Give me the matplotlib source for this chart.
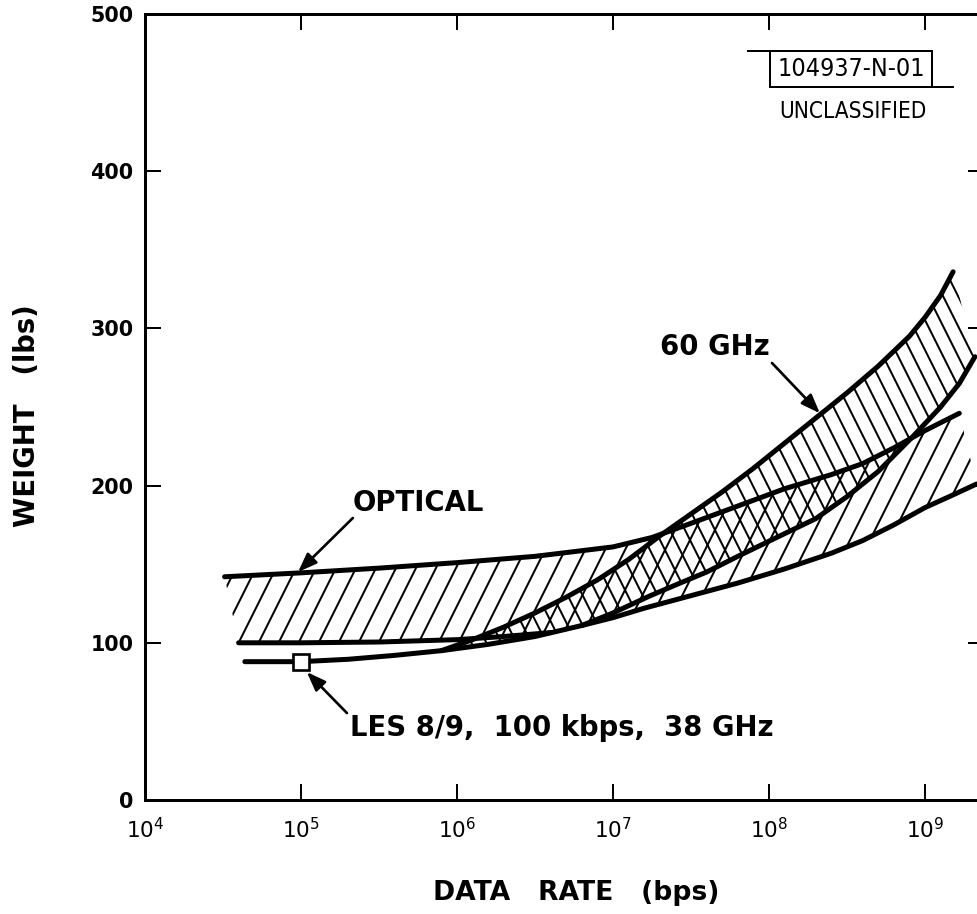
import numpy as np
import matplotlib
matplotlib.use('Agg')
import matplotlib.pyplot as plt
import matplotlib.hatch as mhatch
from matplotlib.path import Path
from matplotlib.lines import Line2D
from matplotlib import font_manager as fm

# ---------------- data ----------------
# log10(data rate in bps) and weight in lbs
# lowest curve (LES line / lower edge)
logr_a = [4.64, 5.0, 5.3, 5.6, 5.9, 6.2, 6.5, 6.8, 7.0, 7.2, 7.5, 7.8, 8.1, 8.4,
          8.6, 8.8, 9.0, 9.2, 9.33]
wt_a = [88, 88, 89.5, 92, 95, 99, 104, 111, 116, 122, 130, 138, 147, 157,
        165, 175, 186, 195, 201]

# optical lower edge at low data rates (merges into curve A)
logr_b = [4.6, 5.0, 5.5, 6.0, 6.3, 6.6]
wt_b = [100, 100, 100.5, 102, 104, 106.5]

# optical upper edge
logr_d = [4.51, 5.0, 5.5, 6.0, 6.5, 7.0, 7.25, 7.5, 7.8, 8.1, 8.4, 8.6, 8.8, 9.0, 9.22]
wt_d = [142, 144.5, 147.5, 151, 155, 161, 167, 176, 187, 198, 207, 214, 224, 235, 246]

# 60 GHz upper edge
logr_c = [5.9, 6.1, 6.3, 6.5, 6.7, 6.9, 7.1, 7.3, 7.5, 7.7, 7.9, 8.1, 8.3, 8.5,
          8.7, 8.9, 9.0, 9.1, 9.18]
wt_c = [95, 102, 110, 119, 129, 140, 153, 168, 182, 196, 211, 227, 243, 259,
        276, 295, 307, 321, 336]

# 60 GHz lower edge (after it leaves curve A)
logr_e = [6.8, 7.0, 7.24, 7.43, 7.6, 7.8, 8.07, 8.3, 8.5, 8.7, 8.92, 9.1, 9.22, 9.32]
wt_e = [111, 119, 130, 138, 145, 155, 168, 179, 193, 209, 231, 250, 265, 282]

les_logr = [5.0]
les_weight = [88]

x_ticks = [1e4, 1e5, 1e6, 1e7, 1e8, 1e9]
x_tick_labels = [r'$\mathregular{10^{4}}$', r'$\mathregular{10^{5}}$', r'$\mathregular{10^{6}}$',
                 r'$\mathregular{10^{7}}$', r'$\mathregular{10^{8}}$', r'$\mathregular{10^{9}}$']
y_ticks = [0, 100, 200, 300, 400, 500]
y_tick_labels = ['0', '100', '200', '300', '400', '500']

rate_a = list(10 ** np.array(logr_a))
rate_b = list(10 ** np.array(logr_b))
rate_c = list(10 ** np.array(logr_c))
rate_d = list(10 ** np.array(logr_d))
rate_e = list(10 ** np.array(logr_e))
les_rate = list(10 ** np.array(les_logr))

# ---------------- steep hatch patterns ----------------
class SteepNE(mhatch.HatchPatternBase):
    def __init__(self, hatch, density):
        n = 6 * hatch.count('/')
        self.offsets = (np.arange(-n, 2 * n) / n) if n else np.empty(0)
        self.num_vertices = 2 * len(self.offsets)

    def set_vertices_and_codes(self, vertices, codes):
        c = self.offsets
        vertices[0::2, 0] = c - 0.025
        vertices[0::2, 1] = -0.05
        vertices[1::2, 0] = c + 0.525
        vertices[1::2, 1] = 1.05
        codes[0::2] = Path.MOVETO
        codes[1::2] = Path.LINETO


class SteepSE(mhatch.HatchPatternBase):
    def __init__(self, hatch, density):
        n = 8 * hatch.count('\\')
        self.offsets = (np.arange(-n, 2 * n) / n) if n else np.empty(0)
        self.num_vertices = 2 * len(self.offsets)

    def set_vertices_and_codes(self, vertices, codes):
        c = self.offsets
        vertices[0::2, 0] = c + 0.025
        vertices[0::2, 1] = -0.05
        vertices[1::2, 0] = c - 0.525
        vertices[1::2, 1] = 1.05
        codes[0::2] = Path.MOVETO
        codes[1::2] = Path.LINETO


ht = mhatch._hatch_types
ht[ht.index(mhatch.NorthEastHatch)] = SteepNE
ht[ht.index(mhatch.SouthEastHatch)] = SteepSE

plt.rcParams['hatch.linewidth'] = 1.2
plt.rcParams['hatch.color'] = 'black'
plt.rcParams['font.family'] = ['DejaVu Sans']
plt.rcParams['mathtext.fontset'] = 'dejavusans'

# look for a narrow face for the classification stamp
narrow_prop = None
for f in fm.fontManager.ttflist:
    if ('Narrow' in f.name or 'Condensed' in f.fname) and f.weight in (400, 'normal', 'regular') \
            and f.style == 'normal':
        narrow_prop = fm.FontProperties(fname=f.fname)
        break

# ---------------- figure ----------------
W, H, DPI = 977, 914, 120
fig = plt.figure(figsize=(W / DPI, H / DPI), dpi=DPI)
fig.patch.set_facecolor('white')
ax = fig.add_axes([145 / W, 1 - 800 / H, 839 / W, 786 / H])
ax.set_xscale('log')
ax.set_xlim(1e4, 10 ** (4 + 839 / 156))
ax.set_ylim(0, 500)

# bands (overlap of the two hatches gives the cross-hatch)
opt_lower_r = rate_b + rate_a[7:]
opt_lower_w = wt_b + wt_a[7:]
ax.fill(rate_d + opt_lower_r[::-1], wt_d + opt_lower_w[::-1],
        facecolor='none', edgecolor='black', hatch='/', linewidth=0, zorder=1)

ghz_lower_r = rate_a[4:7] + rate_e
ghz_lower_w = wt_a[4:7] + wt_e
ax.fill(rate_c + ghz_lower_r[::-1], wt_c + ghz_lower_w[::-1],
        facecolor='none', edgecolor='black', hatch='\\', linewidth=0, zorder=1)

lk = dict(color='black', lw=3.0, solid_capstyle='round', solid_joinstyle='round', zorder=3)
ax.plot(rate_a, wt_a, **lk)
ax.plot(rate_b, wt_b, **lk)
ax.plot(rate_d, wt_d, **lk)
ax.plot(rate_c, wt_c, **lk)
ax.plot(rate_e, wt_e, **lk)

ax.plot(les_rate, les_weight, marker='s', ms=10, mfc='white', mec='black', mew=1.6,
        ls='none', zorder=5)

# axes styling
for s in ax.spines.values():
    s.set_linewidth(1.8)
ax.set_xticks(x_ticks)
ax.set_xticklabels(x_tick_labels, fontsize=13)
ax.xaxis.set_minor_locator(matplotlib.ticker.NullLocator())
ax.set_yticks(y_ticks)
ax.set_yticklabels(y_tick_labels, fontsize=12.4, fontweight='bold')
ax.tick_params(axis='both', which='major', direction='in', top=True, right=True,
               length=9.6, width=1.2)
ax.tick_params(axis='x', pad=10)
ax.tick_params(axis='y', pad=7)

fig.text(27 / W, 1 - 416 / H, 'WEIGHT   (lbs)', rotation=90, ha='center', va='center',
         fontsize=16.5, fontweight='bold')
fig.text(576 / W, 1 - 893 / H, 'DATA   RATE   (bps)', ha='center', va='center',
         fontsize=16, fontweight='bold')

# annotations
arr = dict(arrowstyle='-|>,head_length=0.8,head_width=0.3', lw=1.6, color='black',
           shrinkA=0, shrinkB=0, mutation_scale=12)
ax.text(5.62e5, 189, 'OPTICAL', ha='center', va='center', fontsize=16.5, fontweight='bold')
ax.annotate('', xy=(9.57e4, 145), xytext=(2.15e5, 179.4), arrowprops=arr, zorder=6)

ax.text(4.51e7, 288, '60 GHz', ha='center', va='center', fontsize=16.5, fontweight='bold')
ax.annotate('', xy=(2.12e8, 246), xytext=(1.045e8, 278), arrowprops=arr, zorder=6)

ax.text(2.06e5, 45.8, 'LES 8/9,  100 kbps,  38 GHz', ha='left', va='center',
        fontsize=16.5, fontweight='bold')
ax.annotate('', xy=(1.09e5, 81.4), xytext=(1.97e5, 55.3), arrowprops=arr, zorder=6)

# classification stamp
def fx(px):
    return px / W

def fy(py):
    return 1 - py / H

for (x0, y0, x1, y1) in [(748, 51, 932, 51), (770, 51, 770, 87), (770, 87, 953, 87),
                         (932, 51, 932, 87)]:
    fig.add_artist(Line2D([fx(x0), fx(x1)], [fy(y0), fy(y1)], transform=fig.transFigure,
                          color='black', lw=1.2))
if narrow_prop is not None:
    p1 = narrow_prop.copy(); p1.set_size(15)
    p2 = narrow_prop.copy(); p2.set_size(13.5)
    fig.text(fx(851), fy(69), '104937-N-01', ha='center', va='center', fontproperties=p1)
    fig.text(fx(853), fy(112), 'UNCLASSIFIED', ha='center', va='center', fontproperties=p2)
else:
    fig.text(fx(851), fy(69), '104937-N-01', ha='center', va='center', fontsize=12.5)
    fig.text(fx(853), fy(112), 'UNCLASSIFIED', ha='center', va='center', fontsize=11)

fig.savefig('out.png', dpi=DPI, facecolor='white')
